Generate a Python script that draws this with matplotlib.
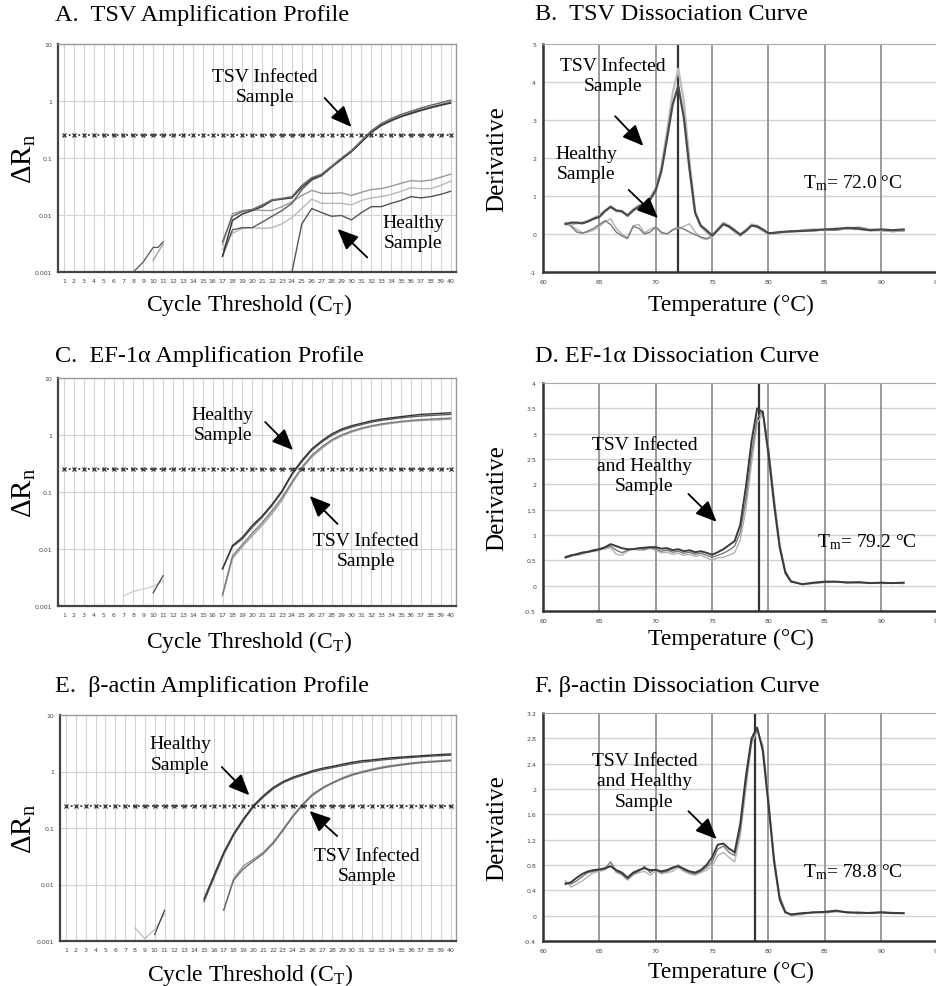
import numpy as np
import matplotlib
matplotlib.use("Agg")
import matplotlib.pyplot as plt

plt.rcParams['font.family'] = ['Liberation Serif', 'DejaVu Serif']
plt.rcParams['mathtext.fontset'] = 'custom'
plt.rcParams['mathtext.rm'] = 'Liberation Serif'
plt.rcParams['mathtext.it'] = 'Liberation Serif:italic'

# ---------------- amplification data (delta Rn per cycle) ----------------
all_cycles = list(range(1, 41))
threshold = 0.25
cyc17 = list(range(17, 41))
cyc15 = list(range(15, 41))
cyc24 = list(range(24, 41))

# A. TSV
a_tsv1 = [0.0019, 0.008, 0.0104, 0.012, 0.014, 0.018, 0.019, 0.02, 0.031, 0.043, 0.05, 0.07,
          0.095, 0.13, 0.19, 0.28, 0.37, 0.45, 0.53, 0.6, 0.68, 0.76, 0.84, 0.92]
a_tsv2 = [0.0034, 0.0095, 0.0115, 0.0125, 0.015, 0.0185, 0.0195, 0.021, 0.033, 0.045, 0.052, 0.072,
          0.1, 0.135, 0.2, 0.3, 0.4, 0.49, 0.58, 0.66, 0.75, 0.84, 0.93, 1.03]
a_tsv3 = [0.0019, 0.0055, 0.006, 0.006, 0.0075, 0.0095, 0.012, 0.016, 0.028, 0.041, 0.049, 0.069,
          0.095, 0.13, 0.19, 0.28, 0.38, 0.46, 0.54, 0.62, 0.7, 0.78, 0.86, 0.95]
a_hea1 = [0.003, 0.0105, 0.012, 0.0125, 0.012, 0.012, 0.014, 0.017, 0.022, 0.027, 0.024, 0.024,
          0.0245, 0.022, 0.025, 0.028, 0.029, 0.032, 0.036, 0.04, 0.039, 0.041, 0.046, 0.052]
a_hea2 = [0.0025, 0.0048, 0.0058, 0.006, 0.0058, 0.006, 0.007, 0.009, 0.013, 0.019, 0.016, 0.016,
          0.016, 0.015, 0.018, 0.02, 0.021, 0.023, 0.026, 0.03, 0.029, 0.029, 0.033, 0.039]
a_hea3 = [0.001, 0.007, 0.013, 0.011, 0.0095, 0.0098, 0.0082, 0.011, 0.014, 0.014, 0.016, 0.018,
          0.021, 0.02, 0.021, 0.023, 0.026]
a_low_x = [8, 9, 10, 10.5, 11]
a_low_y = [0.001, 0.0015, 0.0027, 0.0027, 0.0034]
a_low2_x = [10, 11]
a_low2_y = [0.0016, 0.0031]

# C. EF-1a
c_hea1 = [0.0045, 0.0115, 0.016, 0.026, 0.038, 0.061, 0.105, 0.21, 0.36, 0.57, 0.79, 1.04,
          1.27, 1.45, 1.6, 1.77, 1.9, 2.0, 2.1, 2.2, 2.3, 2.35, 2.4, 2.45]
c_hea2 = [0.0045, 0.011, 0.015, 0.024, 0.036, 0.058, 0.1, 0.2, 0.34, 0.54, 0.75, 0.98,
          1.2, 1.37, 1.52, 1.68, 1.8, 1.9, 2.0, 2.08, 2.15, 2.2, 2.25, 2.3]
c_tsv1 = [0.0015, 0.0068, 0.011, 0.017, 0.026, 0.042, 0.072, 0.14, 0.26, 0.41, 0.58, 0.78,
          0.96, 1.12, 1.27, 1.4, 1.5, 1.6, 1.68, 1.74, 1.79, 1.83, 1.86, 1.9]
c_tsv2 = [0.0016, 0.0075, 0.012, 0.019, 0.029, 0.047, 0.08, 0.15, 0.27, 0.44, 0.62, 0.82,
          1.0, 1.17, 1.32, 1.45, 1.56, 1.65, 1.73, 1.8, 1.86, 1.9, 1.94, 1.98]
c_low_x = [10, 11]
c_low_y = [0.0017, 0.0034]
c_low2_x = [7, 8, 10, 11]
c_low2_y = [0.0015, 0.0018, 0.0022, 0.0028]

# E. beta-actin
e_hea1 = [0.0055, 0.0145, 0.037, 0.079, 0.145, 0.25, 0.37, 0.52, 0.66, 0.79, 0.9, 1.03, 1.14,
          1.23, 1.34, 1.45, 1.55, 1.6, 1.68, 1.75, 1.8, 1.85, 1.9, 1.95, 2.0, 2.05]
e_hea2 = [0.005, 0.013, 0.034, 0.074, 0.137, 0.235, 0.35, 0.49, 0.63, 0.75, 0.86, 0.98, 1.08,
          1.17, 1.27, 1.37, 1.46, 1.52, 1.6, 1.66, 1.72, 1.77, 1.82, 1.87, 1.91, 1.94]
e_tsv1 = [0.0035, 0.0126, 0.0214, 0.028, 0.037, 0.056, 0.095, 0.165, 0.266, 0.4, 0.52, 0.64,
          0.77, 0.9, 1.0, 1.1, 1.2, 1.28, 1.35, 1.42, 1.48, 1.52, 1.56, 1.6]
e_tsv2 = [0.0035, 0.012, 0.019, 0.026, 0.035, 0.053, 0.09, 0.158, 0.255, 0.38, 0.5, 0.62,
          0.74, 0.86, 0.96, 1.06, 1.15, 1.23, 1.3, 1.37, 1.43, 1.47, 1.51, 1.55]
e_low_x = [8, 9, 10, 11]
e_low_y = [0.0017, 0.0011, 0.0016, 0.003]
e_low2_x = [10, 11]
e_low2_y = [0.0013, 0.0035]

# ---------------- dissociation data (derivative vs temperature) ----------------
temps = [62.0, 62.5, 63.0, 63.5, 64.0, 64.5, 65.0, 65.5, 66.0, 66.5, 67.0, 67.5, 68.0, 68.5,
         69.0, 69.5, 70.0, 70.5, 71.0, 71.5, 72.0, 72.5, 73.0, 73.5, 74.0, 74.5, 75.0, 75.5,
         76.0, 76.5, 77.0, 77.5, 78.0, 78.5, 79.0, 79.5, 80.0, 80.5, 81.0, 81.5, 82.0, 83.0,
         84.0, 85.0, 86.0, 87.0, 88.0, 89.0, 90.0, 91.0, 92.0]

b_tsv1 = [0.26, 0.3, 0.3, 0.28, 0.33, 0.4, 0.45, 0.6, 0.72, 0.62, 0.6, 0.48, 0.62, 0.72,
          0.8, 0.9, 1.15, 1.65, 2.5, 3.4, 3.9, 3.05, 1.7, 0.55, 0.22, 0.1, -0.04, 0.1,
          0.26, 0.2, 0.1, -0.02, 0.08, 0.22, 0.2, 0.12, 0.02, 0.03, 0.05, 0.06, 0.07, 0.08,
          0.1, 0.12, 0.13, 0.16, 0.15, 0.1, 0.12, 0.1, 0.12]
b_tsv2 = [0.28, 0.25, 0.28, 0.3, 0.35, 0.42, 0.5, 0.62, 0.7, 0.6, 0.58, 0.5, 0.65, 0.75,
          0.82, 0.95, 1.2, 1.75, 2.7, 3.7, 4.35, 3.5, 1.9, 0.6, 0.2, 0.05, -0.08, 0.12,
          0.3, 0.22, 0.08, -0.05, 0.1, 0.25, 0.22, 0.1, 0.0, 0.02, 0.04, 0.05, 0.06, 0.1,
          0.12, 0.1, 0.15, 0.13, 0.18, 0.12, 0.1, 0.08, 0.1]
b_hea1 = [0.26, 0.22, 0.12, 0.03, 0.05, 0.1, 0.2, 0.32, 0.4, 0.15, 0.0, -0.1, 0.22, 0.25,
          0.03, 0.12, 0.2, 0.02, 0.0, 0.12, 0.15, 0.2, 0.27, 0.05, -0.1, -0.15, -0.08, 0.15,
          0.28, 0.2, 0.08, 0.0, 0.1, 0.25, 0.2, 0.1, 0.03, 0.04, 0.05, 0.05, 0.06, 0.08,
          0.1, 0.1, 0.12, 0.15, 0.13, 0.1, 0.08, 0.07, 0.08]
b_hea2 = [0.3, 0.2, 0.05, 0.02, 0.08, 0.15, 0.25, 0.35, 0.25, 0.05, -0.05, -0.12, 0.2, 0.15,
          0.0, 0.05, 0.18, 0.05, 0.0, 0.1, 0.18, 0.13, 0.05, -0.02, -0.08, -0.12, -0.05, 0.12,
          0.25, 0.18, 0.05, -0.02, 0.12, 0.22, 0.18, 0.08, 0.02, 0.03, 0.04, 0.06, 0.07, 0.09,
          0.08, 0.11, 0.1, 0.14, 0.12, 0.09, 0.1, 0.06, 0.09]

d_s1 = [0.56, 0.6, 0.62, 0.65, 0.67, 0.7, 0.72, 0.76, 0.82, 0.78, 0.74, 0.72, 0.72, 0.74,
        0.75, 0.76, 0.76, 0.73, 0.74, 0.7, 0.72, 0.68, 0.7, 0.66, 0.68, 0.65, 0.61, 0.66,
        0.72, 0.8, 0.88, 1.2, 1.95, 2.85, 3.5, 3.42, 2.6, 1.6, 0.75, 0.25, 0.08, 0.03,
        0.06, 0.08, 0.08, 0.06, 0.07, 0.05, 0.06, 0.05, 0.06]
d_s2 = [0.55, 0.58, 0.63, 0.66, 0.66, 0.68, 0.7, 0.75, 0.78, 0.7, 0.65, 0.7, 0.73, 0.73,
        0.72, 0.75, 0.72, 0.68, 0.7, 0.66, 0.68, 0.64, 0.66, 0.62, 0.64, 0.6, 0.56, 0.6,
        0.64, 0.7, 0.78, 1.05, 1.7, 2.6, 3.3, 3.45, 2.7, 1.7, 0.8, 0.28, 0.09, 0.02,
        0.05, 0.07, 0.08, 0.07, 0.06, 0.06, 0.05, 0.05, 0.05]
d_s3 = [0.58, 0.6, 0.6, 0.62, 0.66, 0.7, 0.72, 0.72, 0.75, 0.62, 0.6, 0.68, 0.72, 0.7,
        0.7, 0.74, 0.7, 0.65, 0.66, 0.62, 0.64, 0.6, 0.62, 0.58, 0.6, 0.55, 0.5, 0.55,
        0.56, 0.6, 0.65, 0.9, 1.5, 2.4, 3.2, 3.4, 2.75, 1.75, 0.85, 0.3, 0.1, 0.03,
        0.04, 0.06, 0.07, 0.06, 0.05, 0.06, 0.04, 0.05, 0.04]

f_s1 = [0.5, 0.53, 0.6, 0.66, 0.7, 0.72, 0.73, 0.75, 0.78, 0.72, 0.68, 0.6, 0.68, 0.72,
        0.75, 0.72, 0.72, 0.7, 0.72, 0.76, 0.78, 0.74, 0.7, 0.68, 0.72, 0.8, 0.92, 1.12,
        1.14, 1.06, 1.0, 1.45, 2.2, 2.8, 2.97, 2.6, 1.75, 0.85, 0.25, 0.05, 0.02, 0.04,
        0.05, 0.06, 0.08, 0.05, 0.05, 0.04, 0.05, 0.04, 0.04]
f_s2 = [0.52, 0.5, 0.55, 0.62, 0.68, 0.7, 0.72, 0.74, 0.85, 0.7, 0.66, 0.58, 0.66, 0.7,
        0.78, 0.68, 0.74, 0.68, 0.7, 0.74, 0.8, 0.72, 0.68, 0.66, 0.7, 0.76, 0.85, 1.05,
        1.1, 1.0, 0.95, 1.35, 2.1, 2.75, 2.95, 2.65, 1.8, 0.9, 0.3, 0.06, 0.01, 0.03,
        0.06, 0.05, 0.07, 0.06, 0.04, 0.05, 0.06, 0.05, 0.04]
f_s3 = [0.55, 0.45, 0.5, 0.55, 0.62, 0.68, 0.7, 0.72, 0.8, 0.68, 0.64, 0.56, 0.64, 0.68,
        0.7, 0.64, 0.7, 0.66, 0.68, 0.7, 0.76, 0.7, 0.66, 0.64, 0.68, 0.72, 0.78, 0.95,
        1.0, 0.92, 0.85, 1.25, 2.0, 2.7, 2.92, 2.7, 1.9, 0.95, 0.32, 0.08, 0.0, 0.02,
        0.05, 0.04, 0.06, 0.05, 0.03, 0.04, 0.05, 0.04, 0.03]

W, H = 936, 987
fig = plt.figure(figsize=(W / 100, H / 100), dpi=100)


def px_axes(x0, y0, x1, y1):
    return fig.add_axes([x0 / W, 1 - y1 / H, (x1 - x0) / W, (y1 - y0) / H])


TICKFONT = dict(fontsize=4.5, color='#444444', family='DejaVu Sans')


def style_amp(ax, ylab_x, xlab_y):
    ax.set_yscale('log')
    ax.set_xlim(0.4, 40.55)
    ax.set_ylim(0.001, 10)
    ax.set_xticks(all_cycles)
    ax.set_xticklabels([str(c) for c in all_cycles], **TICKFONT)
    ax.set_yticks([0.001, 0.01, 0.1, 1, 10])
    ax.set_yticklabels(['0.001', '0.01', '0.1', '1', '10'], **TICKFONT)
    ax.minorticks_off()
    ax.tick_params(length=0, pad=4)
    for c in all_cycles:
        ax.axvline(c, color='#d4d4d4', lw=0.8, zorder=0)
    for v in [0.01, 0.1, 1]:
        ax.axhline(v, color='#d4d4d4', lw=0.8, zorder=0)
    for s in ['left', 'bottom']:
        ax.spines[s].set_color('#444444')
        ax.spines[s].set_linewidth(1.6)
    for s in ['top', 'right']:
        ax.spines[s].set_color('#999999')
        ax.spines[s].set_linewidth(1.0)
    ax.plot(all_cycles, [threshold] * len(all_cycles), ls=':', color='#333333', lw=1.3,
            marker='x', ms=2.5, mew=0.9, zorder=3)
    ax.set_ylabel(r'$\Delta$R$_\mathrm{n}$', fontsize=21)
    ax.yaxis.set_label_coords(ylab_x, 0.5)
    ax.set_xlabel(r'Cycle Threshold (C$_\mathrm{T}$)', fontsize=17)
    ax.xaxis.set_label_coords(0.48, xlab_y)


def style_diss(ax, ylim, yticks, tm, xlab_y):
    ax.set_xlim(60, 95)
    ax.set_ylim(*ylim)
    ax.set_xticks([60, 65, 70, 75, 80, 85, 90, 95])
    ax.set_xticklabels(['60', '65', '70', '75', '80', '85', '90', '95'], **TICKFONT)
    ax.set_yticks(yticks)
    ax.set_yticklabels(['%g' % t for t in yticks], **TICKFONT)
    ax.tick_params(length=0, pad=5)
    for t in yticks[1:-1]:
        ax.axhline(t, color='#d2d2d2', lw=1.0, zorder=0)
    for t in [65, 70, 75, 80, 85, 90]:
        ax.axvline(t, color='#8a8a8a', lw=1.2, zorder=0)
    ax.axvline(tm, color='#333333', lw=1.6, zorder=1)
    for s in ['left', 'bottom']:
        ax.spines[s].set_color('#333333')
        ax.spines[s].set_linewidth(1.8)
    ax.spines['top'].set_color('#aaaaaa')
    ax.spines['right'].set_visible(False)
    ax.set_ylabel('Derivative', fontsize=18)
    ax.yaxis.set_label_coords(-0.089, 0.5)
    ax.set_xlabel('Temperature (°C)', fontsize=17)
    ax.xaxis.set_label_coords(0.477, xlab_y)


def note(ax, text, xy, size=14):
    ax.text(xy[0], xy[1], text, ha='center', va='center', fontsize=size,
            linespacing=1.25, zorder=5)


def arrow(ax, tail, tip):
    ax.annotate('', xy=tip, xytext=tail,
                arrowprops=dict(arrowstyle='-|>,head_length=0.8,head_width=0.35',
                                mutation_scale=16, lw=1.3, color='black',
                                shrinkA=0, shrinkB=0), zorder=5)


TITLE = 17.5

# ---------- A ----------
ax = px_axes(58, 45, 456, 273)
style_amp(ax, -0.05, -0.085)
ax.plot(a_low_x, a_low_y, color='#555555', lw=0.9)
ax.plot(a_low2_x, a_low2_y, color='#999999', lw=0.9)
ax.plot(cyc17, a_hea1, color='#9a9a9a', lw=1.0)
ax.plot(cyc17, a_hea2, color='#b8b8b8', lw=1.0)
ax.plot(cyc24, a_hea3, color='#555555', lw=1.0)
ax.plot(cyc17, a_tsv3, color='#5c5c5c', lw=1.0)
ax.plot(cyc17, a_tsv1, color='#3a3a3a', lw=1.1)
ax.plot(cyc17, a_tsv2, color='#6a6a6a', lw=1.1)
note(ax, 'TSV Infected\nSample', (21.3, 1.8))
arrow(ax, (27.3, 1.13), (30.0, 0.35))
note(ax, 'Healthy\nSample', (36.2, 0.005))
arrow(ax, (31.6, 0.0018), (28.6, 0.0057))
fig.text(55 / W, 1 - 15 / H, 'A.  TSV Amplification Profile', fontsize=TITLE, va='center')

# ---------- B ----------
ax = px_axes(543, 45, 937.5, 273)
style_diss(ax, (-1, 5), [-1, 0, 1, 2, 3, 4, 5], 72.0, -0.095)
ax.plot(temps, b_hea1, color='#b0b0b0', lw=1.0)
ax.plot(temps, b_hea2, color='#7a7a7a', lw=1.0)
ax.plot(temps, b_tsv2, color='#bdbdbd', lw=1.6)
ax.plot(temps, b_tsv1, color='#4a4a4a', lw=1.6)
note(ax, 'TSV Infected\nSample', (66.2, 4.17))
arrow(ax, (66.4, 3.1), (68.9, 2.32))
note(ax, 'Healthy\nSample', (63.8, 1.86))
arrow(ax, (67.6, 1.16), (70.2, 0.42))
note(ax, r'T$_\mathrm{m}$= 72.0 °C', (87.5, 1.37))
fig.text(535 / W, 1 - 15 / H, 'B.  TSV Dissociation Curve', fontsize=TITLE, va='center')

# ---------- C ----------
ax = px_axes(58, 379, 456, 607)
style_amp(ax, -0.05, -0.095)
ax.plot(c_low2_x, c_low2_y, color='#cccccc', lw=0.9)
ax.plot(c_low_x, c_low_y, color='#444444', lw=0.9)
ax.plot(cyc17, c_tsv1, color='#a0a0a0', lw=1.0)
ax.plot(cyc17, c_tsv2, color='#7c7c7c', lw=1.0)
ax.plot(cyc17, c_hea2, color='#5a5a5a', lw=1.0)
ax.plot(cyc17, c_hea1, color='#333333', lw=1.0)
note(ax, 'Healthy\nSample', (17.0, 1.55))
arrow(ax, (21.3, 1.69), (24.1, 0.545))
note(ax, 'TSV Infected\nSample', (31.5, 0.0094))
arrow(ax, (28.6, 0.0275), (25.8, 0.085))
fig.text(55 / W, 1 - 357 / H, 'C.  EF-1\u03b1 Amplification Profile', fontsize=TITLE, va='center')

# ---------- D ----------
ax = px_axes(543, 384, 937.5, 612)
style_diss(ax, (-0.5, 4), [-0.5, 0, 0.5, 1, 1.5, 2, 2.5, 3, 3.5, 4], 79.2, -0.075)
ax.plot(temps, d_s3, color='#b5b5b5', lw=1.0)
ax.plot(temps, d_s2, color='#7a7a7a', lw=1.0)
ax.plot(temps, d_s1, color='#3a3a3a', lw=1.4)
note(ax, 'TSV Infected\nand Healthy\nSample', (69.0, 2.38))
arrow(ax, (72.9, 1.81), (75.4, 1.26))
note(ax, r'T$_\mathrm{m}$= 79.2 °C', (88.7, 0.88))
fig.text(535 / W, 1 - 356 / H, 'D. EF-1\u03b1 Dissociation Curve', fontsize=TITLE, va='center')

# ---------- E ----------
ax = px_axes(60, 716, 456, 942)
style_amp(ax, -0.056, -0.088)
ax.plot(e_low_x, e_low_y, color='#bbbbbb', lw=0.9)
ax.plot(e_low2_x, e_low2_y, color='#444444', lw=0.9)
ax.plot(cyc17, e_tsv1, color='#9a9a9a', lw=1.0)
ax.plot(cyc17, e_tsv2, color='#6a6a6a', lw=1.0)
ax.plot(cyc15, e_hea2, color='#555555', lw=1.0)
ax.plot(cyc15, e_hea1, color='#333333', lw=1.0)
note(ax, 'Healthy\nSample', (12.6, 2.04))
arrow(ax, (16.8, 1.2), (19.6, 0.38))
note(ax, 'TSV Infected\nSample', (31.5, 0.0218))
arrow(ax, (28.5, 0.072), (25.7, 0.2))
fig.text(55 / W, 1 - 687 / H, 'E.  \u03b2-actin Amplification Profile', fontsize=TITLE, va='center')

# ---------- F ----------
ax = px_axes(543, 714, 937.5, 942)
style_diss(ax, (-0.4, 3.2), [-0.4, 0, 0.4, 0.8, 1.2, 1.6, 2, 2.4, 2.8, 3.2], 78.8, -0.088)
ax.plot(temps, f_s3, color='#b5b5b5', lw=1.0)
ax.plot(temps, f_s2, color='#7a7a7a', lw=1.0)
ax.plot(temps, f_s1, color='#3a3a3a', lw=1.4)
note(ax, 'TSV Infected\nand Healthy\nSample', (69.0, 2.13))
arrow(ax, (72.9, 1.65), (75.4, 1.21))
note(ax, r'T$_\mathrm{m}$= 78.8 °C', (87.5, 0.70))
fig.text(535 / W, 1 - 687 / H, 'F. \u03b2-actin Dissociation Curve', fontsize=TITLE, va='center')

fig.savefig('out.png', dpi=100)
